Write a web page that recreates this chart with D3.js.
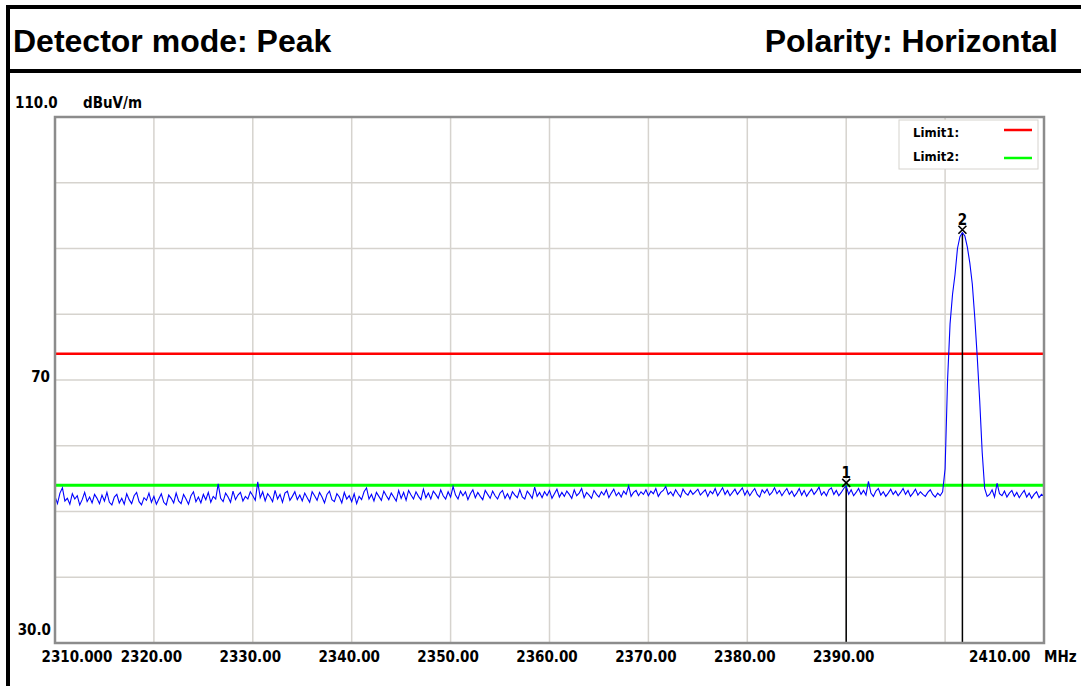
<!DOCTYPE html>
<html>
<head>
<meta charset="utf-8">
<script src="https://d3js.org/d3.v7.min.js"></script>
<style>
	body { margin: 0; background: #ffffff; }
	svg { display: block; }
	.hdr { font-family: 'Liberation Sans', Arial, sans-serif; font-weight: bold; font-size: 32px; fill: #000; }
	.lbl { font-family: 'DejaVu Sans Condensed', 'DejaVu Sans', sans-serif; font-stretch: condensed; font-weight: bold; font-size: 15px; fill: #000; }
	.leg { font-family: 'DejaVu Sans Condensed', 'DejaVu Sans', sans-serif; font-stretch: condensed; font-weight: bold; font-size: 13px; fill: #000; }
	.mk { font-family: 'DejaVu Sans Condensed', 'DejaVu Sans', sans-serif; font-stretch: condensed; font-weight: bold; font-size: 15px; fill: #000; }
</style>
</head>
<body>
<div id="chart"></div>
<script>
// Spectrum sweep: first frequency and spacing of the trace samples (MHz)
var freqStart = 2310;
var freqStep = 0.25;

// Trace levels in dBuV/m, one per sample
var traceLevels = [
	52.3, 51.2, 52.8, 53.6, 51.6, 52.0, 51.1, 52.7, 51.9, 52.4, 51.0, 51.8, 52.9, 51.5, 52.2, 51.3, 52.6, 52.0, 51.2, 52.5,
	51.6, 52.9, 51.4, 51.0, 52.2, 52.6, 51.3, 52.0, 51.1, 52.7, 51.8, 51.2, 52.4, 52.9, 51.5, 51.0, 52.1, 51.7, 52.8, 51.4,
	52.3, 51.1, 51.9, 52.7, 51.4, 51.0, 52.5, 52.0, 51.3, 52.8, 51.6, 51.2, 52.6, 51.9, 51.1, 52.4, 53.0, 51.5, 52.2, 51.3,
	52.6, 51.8, 52.9, 51.4, 52.3, 51.9, 54.2, 52.0, 51.5, 52.8, 52.2, 51.4, 53.1, 51.8, 52.5, 52.9, 51.6, 52.3, 51.9, 53.0,
	52.4, 51.7, 54.5, 52.1, 53.0, 51.6, 52.7, 52.2, 51.5, 53.2, 51.9, 52.6, 51.4, 52.8, 53.1, 51.7, 52.3, 53.0, 51.8, 52.5,
	51.6, 52.8, 52.1, 51.4, 53.0, 52.4, 51.7, 52.9, 52.2, 51.3, 52.6, 53.1, 51.8, 51.5, 52.7, 52.2, 51.3, 52.9, 51.9, 52.4,
	51.5, 52.7, 51.2, 52.3, 51.8, 53.0, 53.6, 51.9, 52.6, 51.6, 52.9, 52.3, 51.7, 53.1, 52.4, 51.8, 52.8, 52.2, 51.6, 53.2,
	52.0, 52.9, 51.7, 53.2, 52.5, 51.9, 53.0, 52.3, 51.8, 53.4, 52.1, 52.8, 51.9, 53.1, 52.6, 52.0, 53.3, 52.4, 51.9, 53.0,
	52.2, 53.8, 52.5, 51.9, 53.1, 52.4, 53.0, 51.8, 52.7, 53.3, 52.1, 52.9, 52.3, 51.8, 53.2, 52.6, 52.0, 53.1, 52.4, 51.9,
	52.8, 53.2, 52.0, 52.7, 51.9, 53.0, 52.5, 52.1, 53.3, 52.2, 51.9, 53.1, 52.6, 52.0, 53.7, 52.3, 52.9, 52.1, 53.0, 52.4,
	53.2, 52.0, 52.7, 53.4, 52.2, 52.9, 52.3, 53.1, 52.6, 52.0, 53.3, 52.4, 52.8, 53.5, 52.1, 52.9, 52.5, 52.0, 53.2, 52.6,
	52.2, 53.0, 52.5, 53.3, 52.1, 52.8, 53.4, 52.4, 52.9, 52.2, 53.1, 52.6, 53.9, 52.3, 52.9, 53.2, 52.4, 53.0, 52.6, 53.3,
	52.4, 53.1, 52.7, 53.5, 52.3, 52.9, 53.2, 53.8, 52.6, 53.0, 52.4, 53.3, 52.7, 52.2, 53.4, 52.8, 52.5, 53.2, 52.6, 53.0,
	53.4, 52.5, 52.9, 53.3, 52.3, 53.1, 52.7, 53.5, 52.4, 53.0, 53.6, 52.6, 53.2, 52.4, 52.9, 53.4, 52.6, 53.1, 53.6, 52.5,
	53.2, 52.4, 53.0, 53.5, 52.6, 52.2, 53.3, 52.8, 53.4, 52.5, 52.9, 53.6, 52.7, 53.2, 52.4, 53.0, 53.5, 52.6, 53.1, 52.3,
	52.8, 53.5, 52.5, 53.2, 52.3, 52.9, 53.4, 52.6, 53.1, 53.7, 52.5, 53.0, 52.4, 53.3, 53.6, 52.6, 53.2, 52.4, 52.9, 53.5,
	53.9, 52.6, 53.3, 52.4, 52.9, 53.5, 52.6, 53.2, 52.5, 54.6, 52.8, 52.3, 53.1, 53.5, 52.5, 53.0, 52.3, 52.8, 53.4, 52.6,
	53.1, 52.4, 52.9, 53.5, 52.6, 53.2, 52.3, 52.8, 53.4, 52.5, 53.0, 52.6, 52.3, 52.9, 53.3, 52.6, 52.2, 52.8,
	52.4, 53.0, 56.5, 70.0, 78.5, 83.0, 86.0, 90.0, 91.8, 92.4, 91.9, 90.2, 87.8, 84.6, 79.5, 73.5, 66.8, 59.0, 53.5, 52.3,
	52.6, 53.3, 52.2, 54.3, 52.7, 52.4, 53.1, 52.2, 52.8, 53.2, 52.3, 52.9, 52.1, 52.7, 53.2, 52.2, 52.8, 52.0, 52.6, 53.0,
	52.1, 52.6, 52.3
];

// Limit lines
var limitNames = ['Limit1:', 'Limit2:'];
var limitValues = [74, 54];

// Markers
var markerIds = ['1', '2'];
var markerFreqs = [2390.0, 2401.75];
var markerLevels = [53.9, 92.4];

// Axis ticks and labels
var xTickValues = [2310, 2320, 2330, 2340, 2350, 2360, 2370, 2380, 2390, 2400, 2410];
var xTickLabels = ['2310.000', '2320.00', '2330.00', '2340.00', '2350.00', '2360.00', '2370.00', '2380.00', '2390.00', '', '2410.00'];
var yGridValues = [40, 50, 60, 70, 80, 90, 100];
var yTickValues = [110, 70, 30];
var yTickLabels = ['110.0', '70', '30.0'];

var limitColors = ['#ff0000', '#00ff00'];
var limitWidths = [2.5, 3];

function drawChart() {
	var svgWidth = 1081;
	var svgHeight = 686;

	var margin = { top: 117, right: 37, bottom: 43, left: 55 };
	var width = svgWidth - margin.left - margin.right;
	var height = svgHeight - margin.top - margin.bottom;

	var svg = d3.select('#chart').append('svg').attr('width', svgWidth).attr('height', svgHeight);

	// Header frame: top rule, header separator, left rule
	svg.append('rect').attr('x', 6).attr('y', 5).attr('width', svgWidth - 6).attr('height', 4).attr('fill', '#000');
	svg.append('rect').attr('x', 6).attr('y', 69).attr('width', svgWidth - 6).attr('height', 4).attr('fill', '#000');
	svg.append('rect').attr('x', 6).attr('y', 5).attr('width', 4).attr('height', svgHeight - 5).attr('fill', '#000');

	svg.append('text').attr('class', 'hdr').attr('x', 13).attr('y', 52).text('Detector mode: Peak');
	svg.append('text').attr('class', 'hdr').attr('x', 1058).attr('y', 52).attr('text-anchor', 'end').text('Polarity: Horizontal');

	var chartGroup = svg.append('g').attr('transform', `translate(${margin.left}, ${margin.top})`);

	var xScale = d3.scaleLinear().domain([2310, 2410]).range([0, width]);
	var yScale = d3.scaleLinear().domain([30, 110]).range([height, 0]);

	// Grid
	chartGroup.selectAll('.vgrid')
		.data(xTickValues.slice(1, -1))
		.enter()
		.append('line')
		.attr('x1', (d) => xScale(d))
		.attr('x2', (d) => xScale(d))
		.attr('y1', 0)
		.attr('y2', height)
		.attr('stroke', '#d6d3ce')
		.attr('stroke-width', 1.5);

	chartGroup.selectAll('.hgrid')
		.data(yGridValues)
		.enter()
		.append('line')
		.attr('x1', 0)
		.attr('x2', width)
		.attr('y1', (d) => yScale(d))
		.attr('y2', (d) => yScale(d))
		.attr('stroke', '#d6d3ce')
		.attr('stroke-width', 1.5);

	// Limit lines
	chartGroup.selectAll('.limit')
		.data(limitValues)
		.enter()
		.append('line')
		.attr('x1', 0)
		.attr('x2', width)
		.attr('y1', (d) => yScale(d))
		.attr('y2', (d) => yScale(d))
		.attr('stroke', (d, i) => limitColors[i])
		.attr('stroke-width', (d, i) => limitWidths[i]);

	// Marker drop lines
	chartGroup.selectAll('.mline')
		.data(markerFreqs)
		.enter()
		.append('line')
		.attr('x1', (d) => xScale(d))
		.attr('x2', (d) => xScale(d))
		.attr('y1', (d, i) => yScale(markerLevels[i]))
		.attr('y2', height)
		.attr('stroke', '#000')
		.attr('stroke-width', 1.5);

	// Marker symbols and numbers (drawn under the trace)
	var markers = chartGroup.selectAll('.marker')
		.data(markerFreqs)
		.enter()
		.append('g')
		.attr('transform', (d, i) => `translate(${xScale(d)}, ${yScale(markerLevels[i])})`);

	markers.append('path')
		.attr('d', 'M-4,-7L4,1M4,-7L-4,1')
		.attr('stroke', '#000')
		.attr('stroke-width', 1.6)
		.attr('fill', 'none');

	markers.append('text')
		.attr('class', 'mk')
		.attr('x', 0)
		.attr('y', -8)
		.attr('text-anchor', 'middle')
		.text((d, i) => markerIds[i]);

	// Trace
	var traceLine = d3.line()
		.x((d, i) => xScale(freqStart + i * freqStep))
		.y((d) => yScale(d));

	chartGroup.append('path')
		.datum(traceLevels)
		.attr('d', traceLine)
		.attr('fill', 'none')
		.attr('stroke', '#0000ff')
		.attr('stroke-width', 1.1);

	// Plot frame
	chartGroup.append('rect')
		.attr('x', 0)
		.attr('y', 0)
		.attr('width', width)
		.attr('height', height)
		.attr('fill', 'none')
		.attr('stroke', '#8c8c8c')
		.attr('stroke-width', 2.5);

	// Legend
	var legend = chartGroup.append('g').attr('transform', `translate(${width - 145}, 3)`);
	legend.append('rect')
		.attr('width', 139)
		.attr('height', 49)
		.attr('fill', '#fff')
		.attr('stroke', '#d6d3ce')
		.attr('stroke-width', 1);
	legend.selectAll('.legtext')
		.data(limitNames)
		.enter()
		.append('text')
		.attr('class', 'leg')
		.attr('x', 14)
		.attr('y', (d, i) => 17 + i * 24)
		.text((d) => d);
	legend.selectAll('.legline')
		.data(limitNames)
		.enter()
		.append('line')
		.attr('x1', 105)
		.attr('x2', 133)
		.attr('y1', (d, i) => 10 + i * 28)
		.attr('y2', (d, i) => 10 + i * 28)
		.attr('stroke', (d, i) => limitColors[i])
		.attr('stroke-width', 2.5);

	// X axis labels
	var bottomAxis = d3.axisBottom(xScale)
		.tickValues(xTickValues)
		.tickSize(0)
		.tickPadding(8)
		.tickFormat((d, i) => xTickLabels[i]);

	var xAxis = chartGroup.append('g')
		.attr('transform', `translate(0, ${height})`)
		.call(bottomAxis);
	xAxis.select('.domain').remove();
	xAxis.attr('font-family', null).attr('font-size', null);
	xAxis.selectAll('text')
		.attr('class', 'lbl')
		.attr('dx', -3)
		.each(function(d, i) {
			if (i === 0) {
				d3.select(this).attr('text-anchor', 'start').attr('dx', -14);
			} else if (i === xTickValues.length - 1) {
				d3.select(this).attr('text-anchor', 'end').attr('dx', -14);
			}
		});

	chartGroup.append('text')
		.attr('class', 'lbl')
		.attr('x', width)
		.attr('y', height + 19)
		.text('MHz');

	// Y axis labels
	chartGroup.append('text').attr('class', 'lbl').attr('x', -40).attr('y', yScale(yTickValues[0]) - 9).text(yTickLabels[0]);
	chartGroup.append('text').attr('class', 'lbl').attr('x', 28).attr('y', yScale(yTickValues[0]) - 9).text('dBuV/m');
	chartGroup.append('text').attr('class', 'lbl').attr('x', -5).attr('y', yScale(yTickValues[1]) + 2).attr('text-anchor', 'end').text(yTickLabels[1]);
	chartGroup.append('text').attr('class', 'lbl').attr('x', -4).attr('y', yScale(yTickValues[2]) - 8).attr('text-anchor', 'end').text(yTickLabels[2]);
}

drawChart();
</script>
</body>
</html>
